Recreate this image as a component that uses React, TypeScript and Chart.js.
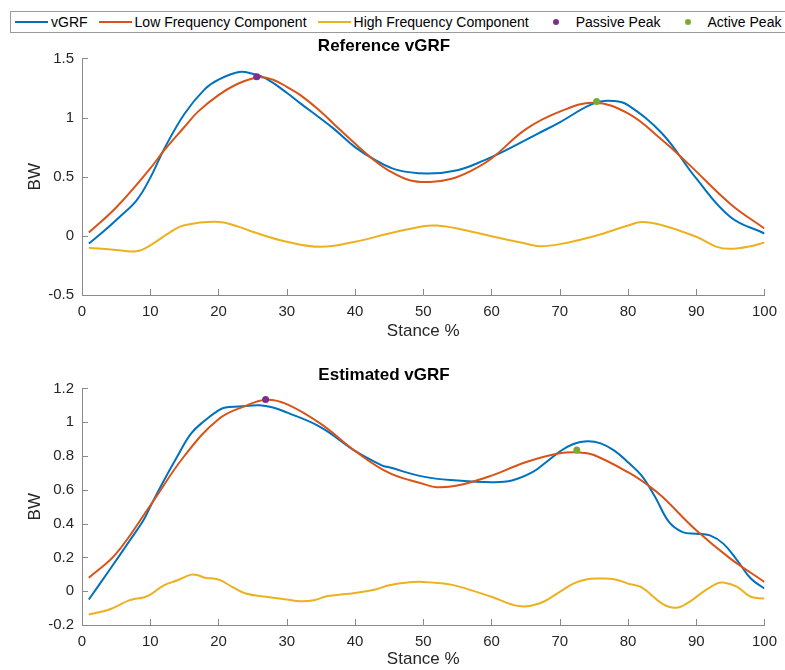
import React, { useEffect, useRef } from "react";
import { Chart, registerables } from "chart.js";

Chart.register(...registerables);

// ---------- Reference vGRF (top panel) ----------
const refVgrfX = [1, 3, 5.5, 8, 10, 12, 15, 18, 20, 23, 25, 27, 30, 32, 35, 37, 40, 43, 46, 50.5, 55, 59, 62, 66.8, 70, 75, 78, 80, 85, 90, 95, 100];
const refVgrfY = [-0.065, 0.03, 0.16, 0.3, 0.49, 0.73, 1.03, 1.24, 1.32, 1.385, 1.37, 1.33, 1.21, 1.12, 0.99, 0.9, 0.75, 0.64, 0.56, 0.527, 0.555, 0.64, 0.72, 0.864, 0.96, 1.12, 1.14, 1.105, 0.865, 0.485, 0.16, 0.02];

const refLowX = [1, 5, 10, 12, 15, 17, 20, 23, 26, 28, 30, 32, 35, 37, 40, 43, 45, 48, 51, 54, 57, 60, 65, 70, 75, 80, 85, 89, 95, 100];
const refLowY = [0.028, 0.24, 0.57, 0.72, 0.92, 1.05, 1.19, 1.29, 1.34, 1.32, 1.26, 1.19, 1.05, 0.94, 0.78, 0.63, 0.55, 0.47, 0.455, 0.48, 0.55, 0.654, 0.9, 1.05, 1.125, 1.035, 0.81, 0.6, 0.27, 0.062];

const refHighX = [1, 5, 8, 10, 13, 15, 20, 23, 25, 30, 35, 40, 45, 50, 52, 55, 60, 65, 67, 70, 75, 80, 82, 85, 90, 93, 95, 98, 100];
const refHighY = [-0.1, -0.12, -0.13, -0.08, 0.034, 0.09, 0.118, 0.076, 0.034, -0.05, -0.093, -0.05, 0.02, 0.082, 0.087, 0.062, -0.003, -0.065, -0.087, -0.07, -0.003, 0.087, 0.118, 0.09, -0.008, -0.093, -0.11, -0.087, -0.056];

const refPassiveX = [25.6];
const refPassiveY = [1.345];
const refActiveX = [75.4];
const refActiveY = [1.135];

// ---------- Estimated vGRF (bottom panel) ----------
const estVgrfX = [1, 4, 7, 9, 10, 12, 14, 16, 18, 20, 21, 23, 26, 28, 30, 35, 40, 44, 45, 50, 55, 60, 63, 66, 68, 70, 72, 74, 76, 78, 80, 82, 84, 86, 88, 90, 92, 94, 96, 98, 100];
const estVgrfY = [-0.049, 0.124, 0.3, 0.42, 0.5, 0.655, 0.8, 0.934, 1.01, 1.07, 1.087, 1.093, 1.1, 1.087, 1.058, 0.97, 0.83, 0.743, 0.733, 0.678, 0.655, 0.645, 0.655, 0.704, 0.763, 0.826, 0.871, 0.887, 0.875, 0.832, 0.763, 0.684, 0.556, 0.41, 0.35, 0.34, 0.33, 0.28, 0.183, 0.075, 0.016];

const estLowX = [1, 5, 10, 15, 20, 24, 27, 30, 35, 40, 45, 50, 52, 55, 60, 65, 70, 73, 75, 80, 83, 85, 90, 95, 100];
const estLowY = [0.079, 0.222, 0.507, 0.8, 1.018, 1.097, 1.133, 1.107, 0.99, 0.83, 0.7, 0.635, 0.615, 0.625, 0.684, 0.763, 0.816, 0.82, 0.806, 0.704, 0.625, 0.56, 0.36, 0.193, 0.055];

const estHighX = [1, 4, 7, 9, 10, 12, 14, 16, 17, 18, 20, 22, 24, 27, 30, 32, 34, 36, 40, 43, 45, 48, 50, 53, 55, 60, 64, 67, 70, 72, 74, 76, 78, 80, 82, 85, 87, 89, 91, 93, 94, 96, 98, 100];
const estHighY = [-0.138, -0.108, -0.053, -0.037, -0.02, 0.035, 0.065, 0.098, 0.094, 0.08, 0.069, 0.026, -0.014, -0.033, -0.049, -0.059, -0.053, -0.029, -0.01, 0.01, 0.035, 0.053, 0.055, 0.045, 0.03, -0.033, -0.088, -0.073, -0.004, 0.045, 0.071, 0.075, 0.071, 0.045, 0.022, -0.073, -0.098, -0.063, -0.004, 0.045, 0.051, 0.026, -0.033, -0.043];

const estPassiveX = [26.9];
const estPassiveY = [1.134];
const estActiveX = [72.5];
const estActiveY = [0.836];

// ---------- ticks / labels ----------
const xTickMin = 0;
const xTickMax = 100;
const xTickStep = 10;
const refYMin = -0.5;
const refYMax = 1.5;
const refYStep = 0.5;
const estYMin = -0.2;
const estYMax = 1.2;
const estYStep = 0.2;

const seriesNames = ["vGRF", "Low Frequency Component", "High Frequency Component", "Passive Peak", "Active Peak"];
const seriesColors = ["#0072BD", "#D95319", "#EDB120", "#7E2F8E", "#77AC30"];

const FONT = '"Liberation Sans", Arial, Helvetica, sans-serif';
const AXIS_COLOR = "#8a8a8a";
const TEXT_COLOR = "#262626";

const toPts = (xs: number[], ys: number[]) => xs.map((x, i) => ({ x, y: ys[i] }));

const inwardTicks = {
  id: "inwardTicks",
  afterDraw(chart: any) {
    const { ctx, chartArea, scales } = chart;
    const len = 6;
    ctx.save();
    ctx.strokeStyle = AXIS_COLOR;
    ctx.lineWidth = 1;
    scales.x.ticks.forEach((t: any) => {
      const px = Math.round(scales.x.getPixelForValue(t.value)) + 0.5;
      ctx.beginPath();
      ctx.moveTo(px, chartArea.bottom);
      ctx.lineTo(px, chartArea.bottom - len);
      ctx.stroke();
    });
    scales.y.ticks.forEach((t: any) => {
      const py = Math.round(scales.y.getPixelForValue(t.value)) + 0.5;
      ctx.beginPath();
      ctx.moveTo(chartArea.left, py);
      ctx.lineTo(chartArea.left + len, py);
      ctx.stroke();
    });
    ctx.restore();
  },
};

type PanelProps = {
  title: string;
  vx: number[]; vy: number[];
  lx: number[]; ly: number[];
  hx: number[]; hy: number[];
  px: number[]; py: number[];
  ax: number[]; ay: number[];
  yMin: number; yMax: number; yStep: number;
  titlePadTop: number; titlePadBottom: number;
  xAxisHeight: number;
  top: number; height: number;
};

function Panel(p: PanelProps) {
  const ref = useRef<HTMLCanvasElement | null>(null);
  useEffect(() => {
    if (!ref.current) return;
    const lineDs = (label: string, data: any[], color: string, order: number) => ({
      label,
      data,
      borderColor: color,
      backgroundColor: color,
      borderWidth: 2,
      pointRadius: 0,
      tension: 0.4,
      fill: false,
      order,
    });
    const dotDs = (label: string, data: any[], color: string, order: number) => ({
      label,
      data,
      borderColor: color,
      backgroundColor: color,
      showLine: false,
      pointRadius: 3.5,
      pointBorderWidth: 0,
      order,
    });
    const chart = new Chart(ref.current, {
      type: "line",
      data: {
        datasets: [
          lineDs(seriesNames[0], toPts(p.vx, p.vy), seriesColors[0], 5),
          lineDs(seriesNames[1], toPts(p.lx, p.ly), seriesColors[1], 4),
          lineDs(seriesNames[2], toPts(p.hx, p.hy), seriesColors[2], 3),
          dotDs(seriesNames[3], toPts(p.px, p.py), seriesColors[3], 2),
          dotDs(seriesNames[4], toPts(p.ax, p.ay), seriesColors[4], 1),
        ] as any,
      },
      options: {
        animation: false,
        responsive: false,
        maintainAspectRatio: false,
        layout: { padding: { left: 0, right: 17, top: 0, bottom: 0 } },
        plugins: {
          legend: { display: false },
          tooltip: { enabled: false },
          title: {
            display: true,
            text: p.title,
            color: "#000",
            font: { family: FONT, size: 17, weight: "bold", lineHeight: 1.2 },
            padding: { top: p.titlePadTop, bottom: p.titlePadBottom },
          },
        },
        scales: {
          x: {
            type: "linear",
            min: xTickMin,
            max: xTickMax,
            grid: { display: false, drawTicks: false },
            border: { display: true, color: AXIS_COLOR, width: 1 },
            ticks: {
              stepSize: xTickStep,
              color: TEXT_COLOR,
              padding: 8,
              maxRotation: 0,
              font: { family: FONT, size: 15 },
            },
            title: {
              display: true,
              text: "Stance %",
              color: TEXT_COLOR,
              font: { family: FONT, size: 17 },
              padding: { top: 0, bottom: 0 },
            },
            afterFit: (s: any) => { s.height = p.xAxisHeight; },
          },
          y: {
            type: "linear",
            min: p.yMin,
            max: p.yMax,
            grid: { display: false, drawTicks: false },
            border: { display: true, color: AXIS_COLOR, width: 1 },
            ticks: {
              stepSize: p.yStep,
              color: TEXT_COLOR,
              padding: 8,
              font: { family: FONT, size: 15 },
              callback: (v: any) => String(Math.round(Number(v) * 10) / 10),
            },
            title: {
              display: true,
              text: "BW",
              color: TEXT_COLOR,
              font: { family: FONT, size: 17 },
              padding: { top: 25, bottom: 0 },
            },
            afterFit: (s: any) => { s.width = 82; },
          },
        },
      } as any,
      plugins: [inwardTicks],
    });
    return () => chart.destroy();
  }, []);
  return (
    <canvas
      ref={ref}
      width={785}
      height={p.height}
      style={{ position: "absolute", left: 0, top: p.top, width: 785, height: p.height }}
    />
  );
}

function LegendItem({ idx, dot }: { idx: number; dot: boolean }) {
  return (
    <div style={{ display: "flex", alignItems: "center", marginRight: 11, flexShrink: 0 }}>
      <div style={{ width: 33, height: 14, position: "relative", marginRight: 3, flexShrink: 0 }}>
        {dot ? (
          <div style={{ position: "absolute", left: 13.5, top: 4, width: 6, height: 6, borderRadius: 3, background: seriesColors[idx] }} />
        ) : (
          <div style={{ position: "absolute", left: 0, top: 6, width: 33, height: 2, background: seriesColors[idx] }} />
        )}
      </div>
      <span style={{ fontFamily: FONT, fontSize: 14, color: "#000", whiteSpace: "nowrap" }}>{seriesNames[idx]}</span>
    </div>
  );
}

export default function App() {
  return (
    <div style={{ position: "absolute", left: 0, top: 0, width: 785, height: 670, background: "#fff", overflow: "hidden" }}>
      <div
        style={{
          position: "absolute",
          left: 10,
          top: 11,
          width: 790,
          height: 22,
          border: "1px solid #9a9a9a",
          display: "flex",
          alignItems: "center",
          paddingLeft: 4,
          boxSizing: "border-box",
          background: "#fff",
          overflow: "hidden",
        }}
      >
        {seriesNames.map((_, i) => (
          <LegendItem key={i} idx={i} dot={i >= 3} />
        ))}
      </div>
      <Panel
        title="Reference vGRF"
        vx={refVgrfX} vy={refVgrfY}
        lx={refLowX} ly={refLowY}
        hx={refHighX} hy={refHighY}
        px={refPassiveX} py={refPassiveY}
        ax={refActiveX} ay={refActiveY}
        yMin={refYMin} yMax={refYMax} yStep={refYStep}
        titlePadTop={0} titlePadBottom={2}
        xAxisHeight={47}
        top={36} height={306}
      />
      <Panel
        title="Estimated vGRF"
        vx={estVgrfX} vy={estVgrfY}
        lx={estLowX} ly={estLowY}
        hx={estHighX} hy={estHighY}
        px={estPassiveX} py={estPassiveY}
        ax={estActiveX} ay={estActiveY}
        yMin={estYMin} yMax={estYMax} yStep={estYStep}
        titlePadTop={23} titlePadBottom={3}
        xAxisHeight={45}
        top={342} height={328}
      />
    </div>
  );
}
